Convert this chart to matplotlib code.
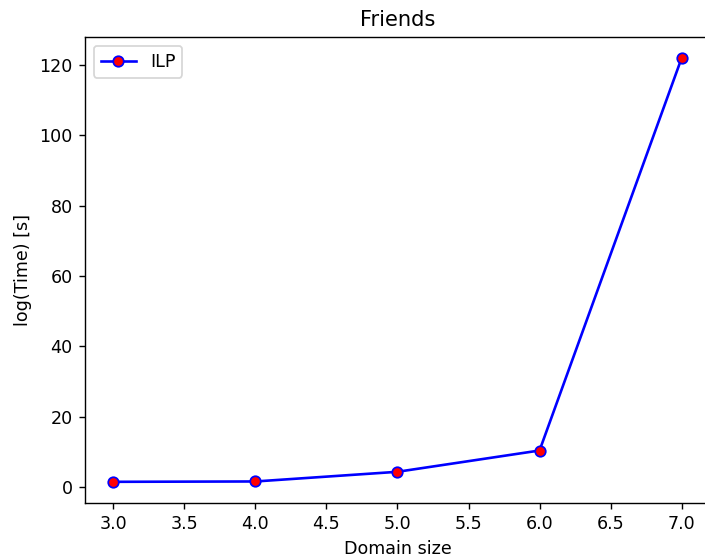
import matplotlib
matplotlib.use("Agg")
import matplotlib.pyplot as plt

domain_size = [3, 4, 5, 6, 7]
ilp_time = [1.5, 1.6, 4.35, 10.4, 121.9]

DPI = 126
W, H = 705, 560
fig = plt.figure(figsize=(W / DPI, H / DPI), dpi=DPI)
ax = fig.add_axes([85 / W, (H - 503) / H, 625 / W, 466 / H])
ax.plot(domain_size, ilp_time, color="blue", marker="o", markerfacecolor="red",
        markeredgecolor="blue", label="ILP")
ax.set_title("Friends")
ax.set_xlabel("Domain size")
ax.set_ylabel("log(Time) [s]")
ax.legend(loc="upper left")
# right spine lies beyond the cropped canvas in the reference
ax.spines["right"].set_visible(False)
fig.savefig("out.png", dpi=DPI)
